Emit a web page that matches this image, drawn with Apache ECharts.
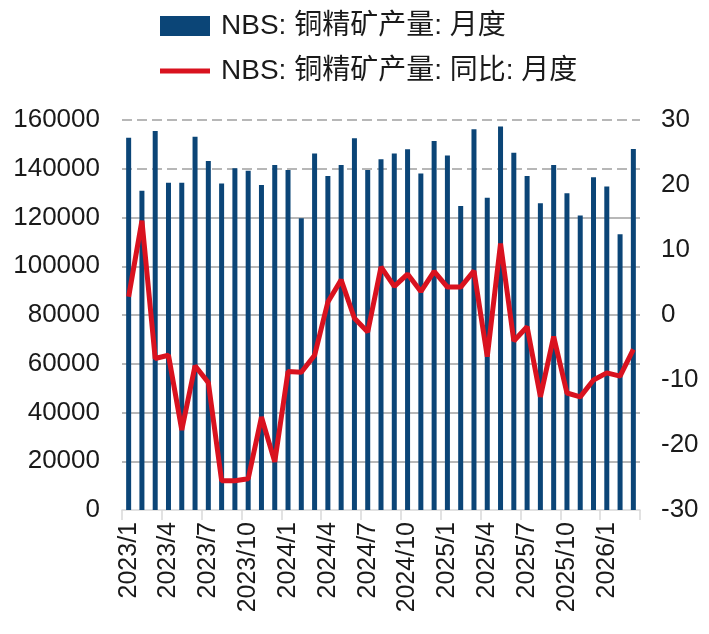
<!DOCTYPE html>
<html>
<head>
<meta charset="utf-8">
<script src="https://cdn.jsdelivr.net/npm/echarts@6/dist/echarts.min.js"></script>
<style>
html,body{margin:0;padding:0;background:#fff;}
#chart{width:709px;height:634px;}
</style>
</head>
<body>
<div id="chart"></div>
<script>
var categories = [
  '2023/1','2023/2','2023/3','2023/4','2023/5','2023/6','2023/7','2023/8','2023/9','2023/10','2023/11','2023/12',
  '2024/1','2024/2','2024/3','2024/4','2024/5','2024/6','2024/7','2024/8','2024/9','2024/10','2024/11','2024/12',
  '2025/1','2025/2','2025/3','2025/4','2025/5','2025/6','2025/7','2025/8','2025/9','2025/10','2025/11','2025/12',
  '2026/1','2026/2','2026/3'
];
var output = [
  152700,131000,155500,134300,134300,153100,143200,134000,140200,139200,133300,141500,
  139500,119700,146300,137000,141500,152500,139500,143900,146300,148000,138100,151400,
  145400,124700,156200,128100,157300,146600,137000,125800,141500,129900,120800,136500,
  132700,113100,148100
];
var yoy = [
  2.8,14.5,-6.7,-6.2,-17.7,-7.8,-10.4,-25.5,-25.5,-25.2,-15.7,-22.6,
  -8.7,-8.8,-6.2,2.0,5.4,-0.5,-2.6,7.4,4.4,6.3,3.6,6.7,
  4.3,4.3,6.8,-6.4,11.0,-4.0,-1.8,-12.6,-3.3,-12.0,-12.6,-10.0,
  -8.9,-9.4,-5.3
];
var leftTicks = [20000,40000,60000,80000,100000,120000,140000,160000];
var dashedFrom = 140000;
var barName = 'NBS: 铜精矿产量: 月度';
var lineName = 'NBS: 铜精矿产量: 同比: 月度';

var font = 'Liberation Sans, Arial, Noto Sans CJK SC, sans-serif';
var chart = echarts.init(document.getElementById('chart'));
chart.setOption({
  animation: false,
  textStyle: {fontFamily: font},
  legend: {
    orient: 'vertical',
    left: 155,
    top: 7,
    itemWidth: 50,
    itemHeight: 20,
    itemGap: 17,
    textStyle: {fontSize: 28, color: '#1a1a1a', fontFamily: font, padding: [0,0,0,6]},
    data: [
      {name: barName, icon: 'rect'},
      {name: lineName, icon: 'path://M0,0 L50,0 L50,5 L0,5 Z'}
    ]
  },
  grid: {left: 122, right: 69, top: 120, bottom: 124, containLabel: false},
  xAxis: {
    type: 'category',
    data: categories,
    boundaryGap: true,
    axisLine: {show: true, lineStyle: {color: '#d9d9d9', width: 1.5}},
    axisTick: {show: true, interval: 2, length: 10, lineStyle: {color: '#d9d9d9', width: 1.5}},
    axisLabel: {interval: 2, rotate: 90, fontSize: 25, color: '#1a1a1a', margin: 12, fontFamily: font}
  },
  yAxis: [
    {
      type: 'value', min: 0, max: 160000, interval: 20000,
      axisLine: {show: false}, axisTick: {show: false},
      splitLine: {show: false},
      axisLabel: {fontSize: 26, color: '#1a1a1a', margin: 22, fontFamily: font,
        formatter: function(v){ return String(v); }}
    },
    {
      type: 'value', min: -30, max: 30, interval: 10, position: 'right',
      axisLine: {show: false}, axisTick: {show: false},
      splitLine: {show: false},
      axisLabel: {fontSize: 26, color: '#1a1a1a', margin: 21, fontFamily: font,
        formatter: function(v){ return String(v); }}
    }
  ],
  series: [
    {
      name: barName,
      type: 'bar',
      yAxisIndex: 0,
      data: output,
      barWidth: 5,
      itemStyle: {color: '#0b4577'},
      z: 2,
      markLine: {
        silent: true,
        z: 1,
        symbol: ['none','none'],
        label: {show: false},
        lineStyle: {color: '#a0a0a0', width: 1.5, type: 'solid'},
        data: leftTicks.map(function(v){
          return {yAxis: v, lineStyle: {type: v >= dashedFrom ? [10,5] : 'solid', color: '#a0a0a0', width: 1.5}};
        })
      }
    },
    {
      name: lineName,
      type: 'line',
      yAxisIndex: 1,
      data: yoy,
      symbol: 'none',
      showSymbol: false,
      lineStyle: {color: '#d9121f', width: 5},
      itemStyle: {color: '#d9121f'},
      z: 3
    }
  ]
});
</script>
</body>
</html>
